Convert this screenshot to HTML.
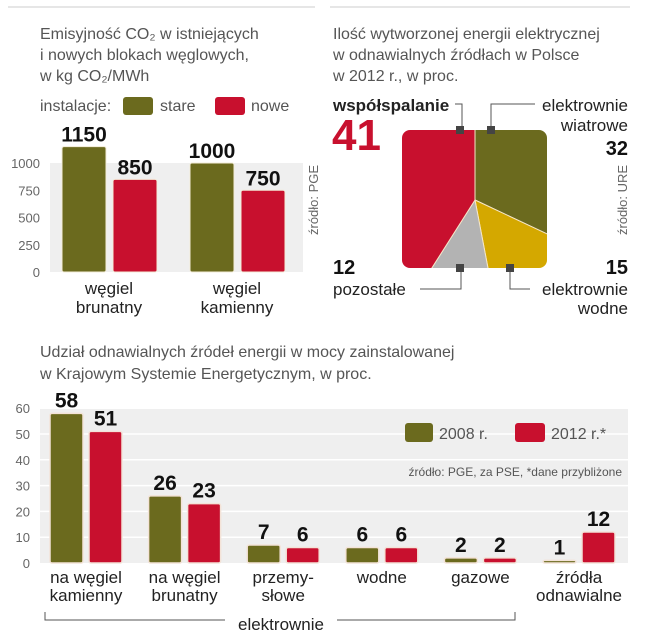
<!DOCTYPE html>
<html><head><meta charset="utf-8">
<style>
body{margin:0;background:#fff;}
svg{display:block;font-family:"Liberation Sans Narrow","Liberation Sans",sans-serif;}
.t{fill:#555;font-size:16px;}
.b{fill:#111;font-weight:bold;}
.l{fill:#222;font-size:17px;}
.ax{fill:#666;font-size:13px;}
</style></head><body>
<svg id="root" width="653" height="640" viewBox="0 0 653 640">
<line x1="8" y1="7" x2="315" y2="7" stroke="#ccc"/>
<line x1="330" y1="7" x2="630" y2="7" stroke="#ccc"/>
<g>
<text class="t" x="40" y="39">Emisyjność CO₂ w istniejących</text>
<text class="t" x="40" y="60">i nowych blokach węglowych,</text>
<text class="t" x="40" y="81">w kg CO₂/MWh</text></g>
<g>
<text class="t" x="40" y="111">instalacje:</text>
<rect x="123" y="97" width="30" height="18" rx="3" fill="#6b6a1e"/><text class="t" x="160" y="111">stare</text>
<rect x="215" y="97" width="30" height="18" rx="3" fill="#c8102e"/><text class="t" x="251" y="111">nowe</text></g>
<rect x="50" y="163" width="253" height="109" fill="#efefef"/>
<g id="c1"></g>
<text class="ax" transform="translate(318,235) rotate(-90)">źródło: PGE</text>

<g>
<text class="t" x="333" y="39">Ilość wytworzonej energii elektrycznej</text>
<text class="t" x="333" y="60">w odnawialnych źródłach w Polsce</text>
<text class="t" x="333" y="81">w 2012 r., w proc.</text></g>
<defs><clipPath id="sq"><rect x="402" y="130" width="145" height="138" rx="8"/></clipPath></defs>
<g id="c2" clip-path="url(#sq)"></g>
<g fill="none" stroke="#555" stroke-width="1">
<path d="M455 104 H462 V128"/><path d="M535 104 H491 V128"/>
<path d="M420 289 H461 V270"/><path d="M510 270 V289 H530"/>
</g>
<g fill="#444">
<rect x="456" y="126" width="8" height="8"/><rect x="487" y="126" width="8" height="8"/>
<rect x="456" y="264" width="8" height="8"/><rect x="506" y="264" width="8" height="8"/></g>
<text class="l b" x="333" y="111">współspalanie</text>
<text x="332" y="150" font-size="44" font-weight="bold" fill="#c8102e">41</text>
<text class="l" x="628" y="111" text-anchor="end">elektrownie</text>
<text class="l" x="628" y="131" text-anchor="end">wiatrowe</text>
<text class="b" x="628" y="155" font-size="20" text-anchor="end">32</text>
<text class="ax" transform="translate(627,235) rotate(-90)">źródło: URE</text>
<text class="b" x="333" y="274" font-size="20">12</text>
<text class="l" x="333" y="295">pozostałe</text>
<text class="b" x="628" y="274" font-size="20" text-anchor="end">15</text>
<text class="l" x="628" y="295" text-anchor="end">elektrownie</text>
<text class="l" x="628" y="314" text-anchor="end">wodne</text>

<g>
<text class="t" x="40" y="357">Udział odnawialnych źródeł energii w mocy zainstalowanej</text>
<text class="t" x="40" y="379">w Krajowym Systemie Energetycznym, w proc.</text></g>
<rect x="40" y="408" width="588" height="155" fill="#efefef"/>
<g id="c3"></g>
<g>
<rect x="405" y="423" width="28" height="19" rx="3" fill="#6b6a1e"/><text class="t" x="439" y="439">2008 r.</text>
<rect x="515" y="423" width="30" height="19" rx="3" fill="#c8102e"/><text class="t" x="551" y="439">2012 r.*</text></g>
<text x="622" y="476" font-size="12" fill="#555" text-anchor="end">źródło: PGE, za PSE, *dane przybliżone</text>
<path d="M45 612 V620 H225 M337 620 H515 V612" fill="none" stroke="#555"/>
<text class="l" x="281" y="630" text-anchor="middle">elektrownie</text>
</svg>
<script>
const emCats=[["węgiel","brunatny"],["węgiel","kamienny"]];
const emOld=[1150,1000];
const emNew=[850,750];
const emTicks=[0,250,500,750,1000];
const pieNames=["elektrownie wiatrowe","elektrownie wodne","pozostałe","współspalanie"];
const pieVals=[32,15,12,41];
const capCats=[["na węgiel","kamienny"],["na węgiel","brunatny"],["przemy-","słowe"],["wodne"],["gazowe"],["źródła","odnawialne"]];
const cap2008=[58,26,7,6,2,1];
const cap2012=[51,23,6,6,2,12];
const capTicks=[0,10,20,30,40,50,60];
const NS="http://www.w3.org/2000/svg";
function mk(p,t,a){const e=document.createElementNS(NS,t);for(const k in a)e.setAttribute(k,a[k]);p.appendChild(e);return e;}
const OL="#6b6a1e",RD="#c8102e";
// chart 1
const c1=document.getElementById('c1');
const y1=v=>272-v*0.109;
emTicks.forEach(t=>{const e=mk(c1,'text',{x:40,y:y1(t)+5,'text-anchor':'end',class:'ax','font-size':14});e.textContent=t;

});
emCats.forEach((c,i)=>{const gx=62+i*128;
[[emOld[i],OL,0],[emNew[i],RD,51]].forEach(([v,col,dx])=>{
const r=mk(c1,'rect',{x:gx+dx,y:y1(v),width:44,height:272-y1(v),rx:2,fill:col,stroke:'#f3ecd8','stroke-width':1});


const t=mk(c1,'text',{x:gx+dx+22,y:y1(v)-5,'text-anchor':'middle',class:'b','font-size':21});t.textContent=v;

});
c.forEach((s,j)=>{const t=mk(c1,'text',{x:gx+47,y:294+j*19,'text-anchor':'middle',class:'l'});t.textContent=s;

});});
// chart 2
const c2=document.getElementById('c2');const cx=475,cy=200,R=300;const cols=[OL,"#d4a800","#b3b3b3",RD];
let acc=0;const tot=pieVals.reduce((a,b)=>a+b,0);
pieVals.forEach((v,i)=>{const a0=acc/tot*2*Math.PI;acc+=v;const a1=acc/tot*2*Math.PI;
const p=(a)=>[cx+R*Math.sin(a),cy-R*Math.cos(a)];const P0=p(a0),P1=p(a1);
const s=mk(c2,'path',{d:`M${cx},${cy} L${P0[0]},${P0[1]} A${R},${R} 0 ${a1-a0>Math.PI?1:0} 1 ${P1[0]},${P1[1]} Z`,fill:cols[i],stroke:'#f5e6c8','stroke-width':1});

});
// chart 3
const c3=document.getElementById('c3');
const y3=v=>563-v*2.58;
capTicks.forEach(t=>{if(t>0){const g=mk(c3,'line',{x1:40,x2:628,y1:y3(t),y2:y3(t),stroke:'#fff','stroke-width':1.5});

}
const e=mk(c3,'text',{x:30,y:y3(t)+5,'text-anchor':'end',class:'ax','font-size':14});e.textContent=t;

});
capCats.forEach((c,i)=>{const gx=50+i*98.6;
[[cap2008[i],OL,0],[cap2012[i],RD,39]].forEach(([v,col,dx])=>{
const r=mk(c3,'rect',{x:gx+dx,y:y3(v),width:33,height:563-y3(v),rx:2,fill:col,stroke:'#f3e3d8','stroke-width':1.5});


const t=mk(c3,'text',{x:gx+dx+16.5,y:y3(v)-6,'text-anchor':'middle',class:'b','font-size':21});t.textContent=v;

});
c.forEach((s,j)=>{const t=mk(c3,'text',{x:gx+36,y:583+j*18,'text-anchor':'middle',class:'l'});t.textContent=s;

});});
</script>
</body></html>
